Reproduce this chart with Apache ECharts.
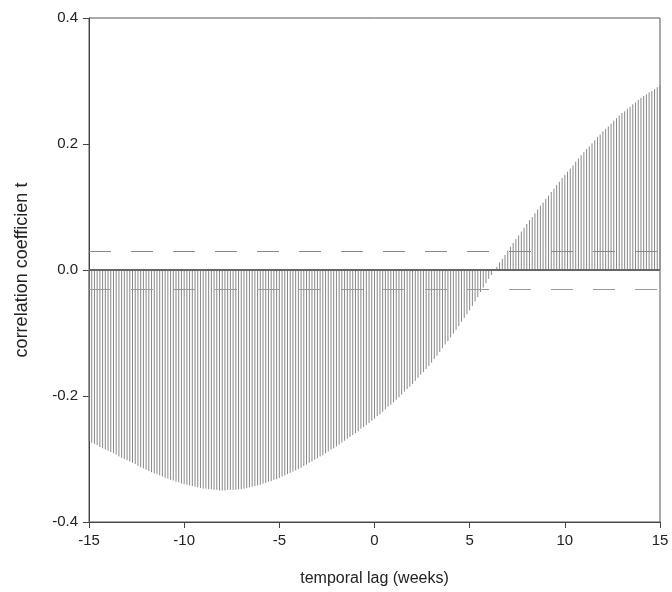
<!DOCTYPE html>
<html>
<head>
<meta charset="utf-8">
<title>cross correlation</title>
<script src="https://cdn.jsdelivr.net/npm/echarts@6/dist/echarts.min.js"></script>
<style>
html,body{margin:0;padding:0;background:#fff}
#chart{width:672px;height:592px}
</style>
</head>
<body>
<div id="chart"></div>
<script>
// lag runs from -15 to 15 weeks, one line per day
let firstLag = -15
let lagStep = 1 / 7
let xTicks = [-15, -10, -5, 0, 5, 10, 15]
let yTicks = [-0.4, -0.2, 0.0, 0.2, 0.4]
let confLimit = 0.033

let corrValues = [
    -0.272, -0.274, -0.276, -0.278, -0.281, -0.283, -0.285,
    -0.287, -0.289, -0.291, -0.293, -0.296, -0.298, -0.300,
    -0.302, -0.304, -0.306, -0.308, -0.311, -0.313, -0.315,
    -0.317, -0.319, -0.321, -0.323, -0.324, -0.326, -0.328,
    -0.330, -0.331, -0.333, -0.334, -0.336, -0.337, -0.339,
    -0.340, -0.341, -0.342, -0.343, -0.344, -0.345, -0.346,
    -0.347, -0.347, -0.348, -0.348, -0.349, -0.349, -0.350,
    -0.350, -0.350, -0.349, -0.349, -0.349, -0.349, -0.348,
    -0.348, -0.347, -0.346, -0.345, -0.344, -0.343, -0.342,
    -0.341, -0.339, -0.338, -0.336, -0.335, -0.333, -0.332,
    -0.330, -0.328, -0.326, -0.324, -0.322, -0.320, -0.318,
    -0.316, -0.314, -0.311, -0.309, -0.306, -0.304, -0.301,
    -0.299, -0.296, -0.294, -0.291, -0.288, -0.285, -0.283,
    -0.280, -0.277, -0.274, -0.271, -0.268, -0.265, -0.262,
    -0.259, -0.256, -0.252, -0.249, -0.246, -0.243, -0.239,
    -0.236, -0.232, -0.229, -0.225, -0.221, -0.217, -0.214,
    -0.210, -0.206, -0.202, -0.198, -0.193, -0.189, -0.185,
    -0.181, -0.176, -0.171, -0.166, -0.162, -0.157, -0.152,
    -0.147, -0.141, -0.136, -0.130, -0.124, -0.118, -0.113,
    -0.107, -0.101, -0.095, -0.089, -0.082, -0.076, -0.070,
    -0.064, -0.057, -0.050, -0.043, -0.035, -0.028, -0.021,
    -0.014, -0.008, -0.001, 0.005, 0.012, 0.018, 0.024,
    0.031, 0.037, 0.043, 0.049, 0.055, 0.061, 0.067,
    0.073, 0.079, 0.084, 0.090, 0.096, 0.102, 0.107,
    0.113, 0.118, 0.124, 0.129, 0.135, 0.140, 0.146,
    0.151, 0.156, 0.161, 0.166, 0.172, 0.177, 0.182,
    0.187, 0.192, 0.196, 0.201, 0.206, 0.211, 0.215,
    0.220, 0.224, 0.228, 0.232, 0.237, 0.241, 0.245,
    0.249, 0.252, 0.256, 0.259, 0.263, 0.266, 0.270,
    0.273, 0.276, 0.279, 0.282, 0.284, 0.287, 0.290,
    0.293
]

let lineData = corrValues.map(function(v, i){
    return [firstLag + i * lagStep, v]
})

let myChart = echarts.init(document.getElementById("chart"))
let fontName = "Liberation Sans, Arial, sans-serif"
let option = {
    animation: false,
    backgroundColor: "#fff",
    grid: {
        left: 89, right: 12, top: 18, bottom: 69,
        show: true, borderColor: "#555", borderWidth: 1
    },
    xAxis: {
        type: "value",
        min: xTicks[0], max: xTicks[xTicks.length - 1], interval: 5,
        name: "temporal lag (weeks)",
        nameLocation: "middle",
        nameGap: 49,
        nameTextStyle: {fontSize: 16, color: "#222", fontFamily: fontName},
        axisLine: {show: true, onZero: false, lineStyle: {color: "#444", width: 1}},
        axisTick: {show: true, length: 6, lineStyle: {color: "#444"}},
        axisLabel: {fontSize: 15, color: "#222", fontFamily: fontName, margin: 11},
        splitLine: {show: false}
    },
    yAxis: {
        type: "value",
        min: yTicks[0], max: yTicks[yTicks.length - 1], interval: 0.2,
        name: "correlation coefficien t",
        nameLocation: "middle",
        nameGap: 58,
        nameTextStyle: {fontSize: 18, color: "#222", fontFamily: fontName},
        axisLine: {show: true, onZero: false, lineStyle: {color: "#444", width: 1}},
        axisTick: {show: true, length: 6, lineStyle: {color: "#444"}},
        axisLabel: {
            fontSize: 15, color: "#222", fontFamily: fontName, margin: 11,
            formatter: function(v){ return v.toFixed(1) }
        },
        splitLine: {show: false}
    },
    series: [
        {
            type: "custom",
            data: lineData,
            renderItem: function(params, api){
                let base = api.coord([api.value(0), 0])
                let tip = api.coord([api.value(0), api.value(1)])
                return {
                    type: "line",
                    shape: {x1: base[0], y1: base[1], x2: tip[0], y2: tip[1]},
                    style: {stroke: "#888", lineWidth: 1}
                }
            },
            markLine: {
                silent: true,
                symbol: "none",
                label: {show: false},
                data: [
                    {yAxis: 0, lineStyle: {type: "solid", color: "#666", width: 2}},
                    {yAxis: confLimit, lineStyle: {type: [22, 20], color: "#888", width: 1.2}},
                    {yAxis: -confLimit, lineStyle: {type: [22, 20], color: "#999", width: 1.2}}
                ]
            }
        }
    ]
}
myChart.setOption(option)
</script>
</body>
</html>
